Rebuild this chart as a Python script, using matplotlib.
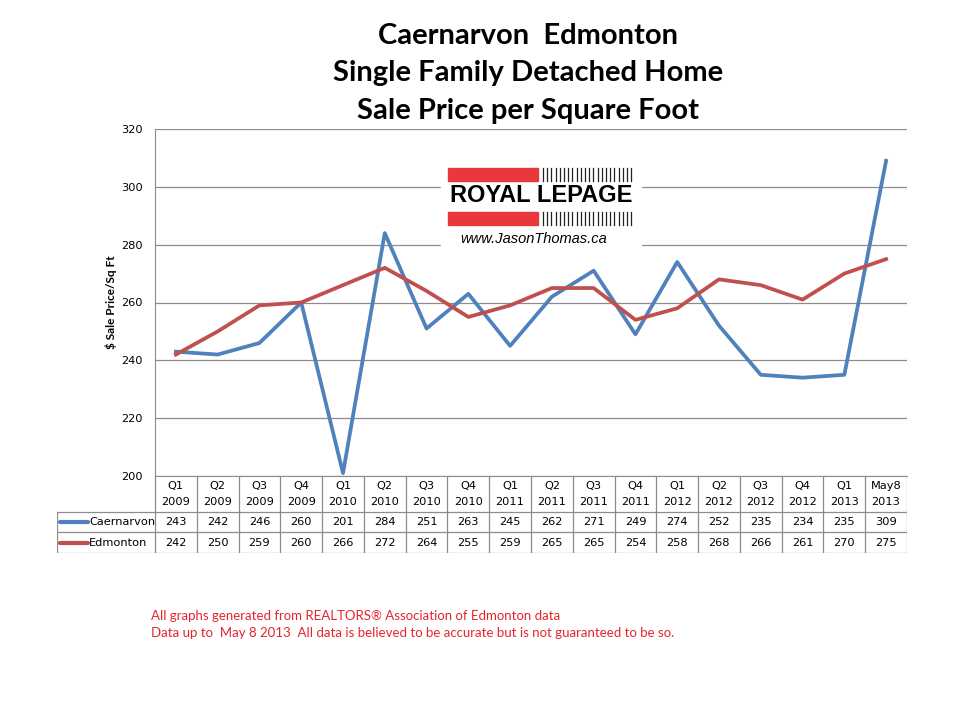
import numpy as np
import matplotlib.pyplot as plt
from matplotlib.patches import Rectangle

plt.rcParams['font.family'] = ['Lato', 'DejaVu Sans']

# Данные
quarters = ['Q1', 'Q2', 'Q3', 'Q4', 'Q1', 'Q2', 'Q3', 'Q4', 'Q1', 'Q2', 'Q3', 'Q4',
            'Q1', 'Q2', 'Q3', 'Q4', 'Q1', 'May8']
years = ['2009'] * 4 + ['2010'] * 4 + ['2011'] * 4 + ['2012'] * 4 + ['2013'] * 2
caernarvon = [243, 242, 246, 260, 201, 284, 251, 263, 245, 262, 271, 249, 274, 252, 235, 234, 235, 309]
edmonton = [242, 250, 259, 260, 266, 272, 264, 255, 259, 265, 265, 254, 258, 268, 266, 261, 270, 275]
series = [('Caernarvon', caernarvon, '#4F81BD'), ('Edmonton', edmonton, '#C0504D')]

W, H = 960, 720
fig = plt.figure(figsize=(W / 100, H / 100), dpi=100)
tfont = 'DejaVu Sans'
fs = 8.2
gc = '#8c8c8c'

# Область графика (пиксели)
x0, x1 = 155, 907
y_top, y_bot = 129, 476
ax = fig.add_axes([x0 / W, 1 - y_bot / H, (x1 - x0) / W, (y_bot - y_top) / H])
n = len(caernarvon)
x = np.arange(n)
for name, vals, col in series:
    ax.plot(x, vals, color=col, lw=2.7, solid_joinstyle='round', zorder=3)
ax.set_xlim(-0.5, n - 0.5)
ax.set_ylim(200, 320)
ax.set_yticks(range(200, 321, 20))
ax.yaxis.grid(True, color=gc, lw=0.9)
ax.set_xticks([])
for s in ['top', 'right']:
    ax.spines[s].set_visible(False)
ax.spines['bottom'].set_color(gc)
ax.spines['left'].set_color(gc)
ax.tick_params(axis='y', length=0, labelsize=fs, pad=9, labelfontfamily=tfont)
ax.set_ylabel('$ Sale Price/Sq Ft', fontsize=8.5, fontweight='bold', labelpad=3)

# Заголовок
for i, t in enumerate(['Caernarvon  Edmonton', 'Single Family Detached Home',
                       'Sale Price per Square Foot']):
    fig.text(528 / W, 1 - (36 + 37.5 * i) / H, t, ha='center', va='center',
             fontsize=21, fontweight='bold')

# Логотип
lx0, lx1, ly0, ly1 = 441, 641, 155, 247
fig.patches.append(Rectangle((lx0 / W, 1 - ly1 / H), (lx1 - lx0) / W, (ly1 - ly0) / H,
                             transform=fig.transFigure, color='white', zorder=5))
for yy in [168, 212]:
    fig.patches.append(Rectangle((448 / W, 1 - (yy + 13) / H), 90 / W, 13 / H,
                                 transform=fig.transFigure, color='#E8383D', zorder=6))
    for k in range(22):
        xx = 543 + k * 4.2
        fig.add_artist(plt.Line2D([xx / W, xx / W], [1 - (yy + 13) / H, 1 - yy / H],
                                  color='#222222', lw=0.9, zorder=6))
fig.text(541 / W, 1 - 196 / H, 'ROYAL LEPAGE', ha='center', va='center', fontsize=17,
         fontweight='bold', family=['Liberation Sans', 'DejaVu Sans'], zorder=7)
fig.text(534 / W, 1 - 239 / H, 'www.JasonThomas.ca', ha='center', va='center', fontsize=10.5,
         style='italic', family=['Liberation Sans', 'DejaVu Sans'], zorder=7)

# Таблица данных
tl = 57
r0, r1, r2, r3 = 476, 512, 532, 553
tax = fig.add_axes([tl / W, 1 - r3 / H, (x1 - tl) / W, (r3 - r0) / H])
tax.set_xlim(tl, x1)
tax.set_ylim(r3, r0)
tax.axis('off')
cw = (x1 - x0) / n
for i in range(n + 1):
    xx = x0 + i * cw
    tax.plot([xx, xx], [r0, r3], color=gc, lw=0.9)
tax.plot([tl, tl], [r1, r3], color=gc, lw=0.9)
for yy in [r1, r2, r3]:
    tax.plot([tl, x1], [yy, yy], color=gc, lw=0.9)
for i in range(n):
    cx = x0 + (i + 0.5) * cw
    tax.text(cx, r0 + 10, quarters[i], ha='center', va='center', fontsize=fs, family=tfont)
    tax.text(cx, r0 + 26, years[i], ha='center', va='center', fontsize=fs, family=tfont)
for (name, vals, col), (ya, yb) in zip(series, [(r1, r2), (r2, r3)]):
    ym = (ya + yb) / 2
    tax.plot([60, 88], [ym, ym], color=col, lw=3, solid_capstyle='round')
    tax.text(89, ym, name, ha='left', va='center', fontsize=fs, family=tfont)
    for i, v in enumerate(vals):
        tax.text(x0 + (i + 0.5) * cw, ym, str(v), ha='center', va='center',
                 fontsize=fs, family=tfont)

# Сноска
fig.text(151 / W, 1 - 616 / H, 'All graphs generated from REALTORS® Association of Edmonton data',
         ha='left', va='center', fontsize=9.5, color='#E3262D')
fig.text(151 / W, 1 - 633 / H,
         'Data up to  May 8 2013  All data is believed to be accurate but is not guaranteed to be so.',
         ha='left', va='center', fontsize=9.5, color='#E3262D')

fig.savefig('out.png', dpi=100)
